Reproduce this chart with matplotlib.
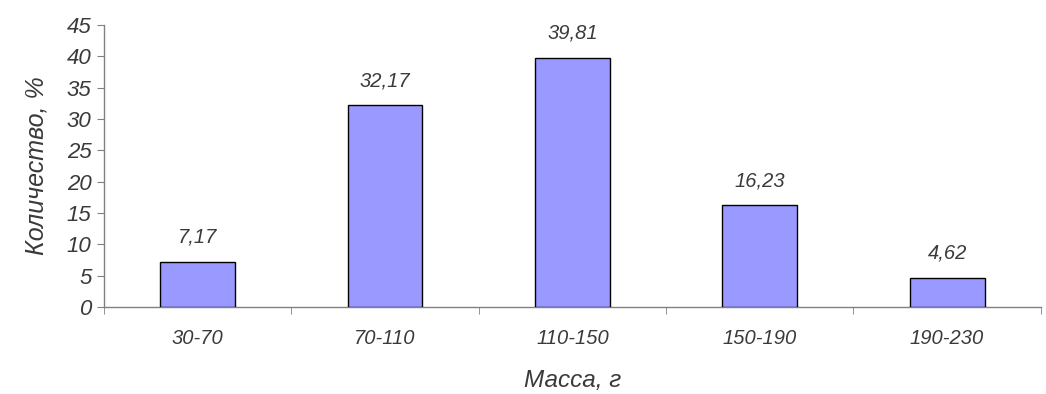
import matplotlib
matplotlib.use("Agg")
import matplotlib.pyplot as plt
import numpy as np

# bar chart data
categories = ["30-70", "70-110", "110-150", "150-190", "190-230"]
values = [7.17, 32.17, 39.81, 16.23, 4.62]
value_labels = ["7,17", "32,17", "39,81", "16,23", "4,62"]
y_ticks = [0, 5, 10, 15, 20, 25, 30, 35, 40, 45]

plt.rcParams['font.family'] = ['Liberation Sans', 'DejaVu Sans']
text_col = '#3a3a3a'
axis_col = '#808080'

fig = plt.figure(figsize=(10.46, 3.94), dpi=100)
ax = fig.add_axes([0.0994, 0.2208, 0.8956, 0.7157])

x = np.arange(len(categories))
ax.bar(x, values, width=0.4, color='#9999FF', edgecolor='black', linewidth=1.0, zorder=3)

for xi, v, lab in zip(x, values, value_labels):
    ax.annotate(lab, (xi, v), xytext=(0, 11), textcoords='offset points',
                ha='center', va='bottom', fontsize=14.5, style='italic', color=text_col)

ax.set_xlim(-0.5, len(categories) - 0.5)
ax.set_ylim(0, 45)
ax.set_yticks(y_ticks)
ax.set_yticklabels([str(t) for t in y_ticks], fontsize=16, style='italic', color=text_col)

ax.set_xticks(x)
ax.set_xticklabels(categories, fontsize=14.5, style='italic', color=text_col)
ax.set_xticks(np.arange(len(categories) + 1) - 0.5, minor=True)
ax.tick_params(axis='x', which='major', length=0, pad=16)
ax.tick_params(axis='x', which='minor', length=5, color=axis_col, direction='out')
ax.tick_params(axis='y', length=5, color=axis_col, direction='out', pad=4)

for s in ['top', 'right']:
    ax.spines[s].set_visible(False)
for s in ['left', 'bottom']:
    ax.spines[s].set_color(axis_col)
    ax.spines[s].set_linewidth(1.0)

ax.set_xlabel("Масса, г", fontsize=17.5, style='italic', color=text_col, labelpad=15)
ax.set_ylabel("Количество, %", fontsize=18, style='italic', color=text_col, labelpad=13)

fig.savefig("out.png", dpi=100)
